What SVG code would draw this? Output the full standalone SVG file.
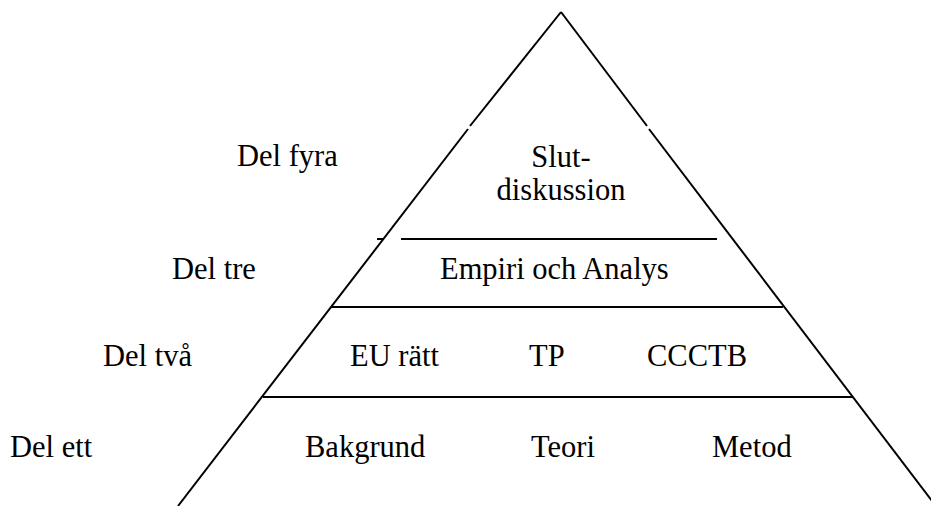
<svg xmlns="http://www.w3.org/2000/svg" width="931" height="506" viewBox="0 0 931 506">
  <style>
    .edge { stroke: #000; stroke-width: 2; fill: none; stroke-linecap: butt; }
    .lbl { font-family: "Liberation Serif", "Times New Roman", serif; font-size: 30.5px; fill: #000; }
  </style>
  <rect width="931" height="506" fill="#fff"/>

  <!-- pyramid outline and level dividers -->
  <g id="connectors">
    <line class="edge" x1="561" y1="12" x2="470" y2="126"/>
    <line class="edge" x1="468" y1="129" x2="178" y2="506"/>
    <line class="edge" x1="377" y1="239" x2="384" y2="239"/>
    <line class="edge" x1="561" y1="12" x2="647" y2="126"/>
    <line class="edge" x1="649" y1="129" x2="932" y2="501"/>
    <line class="edge" x1="401" y1="239" x2="717" y2="239"/>
    <line class="edge" x1="331" y1="307" x2="783" y2="307"/>
    <line class="edge" x1="263" y1="397" x2="853" y2="397"/>
  </g>

  <!-- level four: closing discussion -->
  <g id="level4">
    <text class="lbl" x="237" y="166">Del fyra</text>
    <text class="lbl" x="561" y="167" text-anchor="middle">Slut-</text>
    <text class="lbl" x="561" y="200" text-anchor="middle">diskussion</text>
  </g>

  <!-- level three -->
  <g id="level3">
    <text class="lbl" x="172" y="279">Del tre</text>
    <text class="lbl" x="440" y="279">Empiri och Analys</text>
  </g>

  <!-- level two -->
  <g id="level2">
    <text class="lbl" x="103" y="366">Del två</text>
    <text class="lbl" x="350" y="366">EU rätt</text>
    <text class="lbl" x="529" y="366">TP</text>
    <text class="lbl" x="647" y="366">CCCTB</text>
  </g>

  <!-- level one -->
  <g id="level1">
    <text class="lbl" x="10" y="457">Del ett</text>
    <text class="lbl" x="305" y="457">Bakgrund</text>
    <text class="lbl" x="531" y="457">Teori</text>
    <text class="lbl" x="712" y="457">Metod</text>
  </g>
</svg>
